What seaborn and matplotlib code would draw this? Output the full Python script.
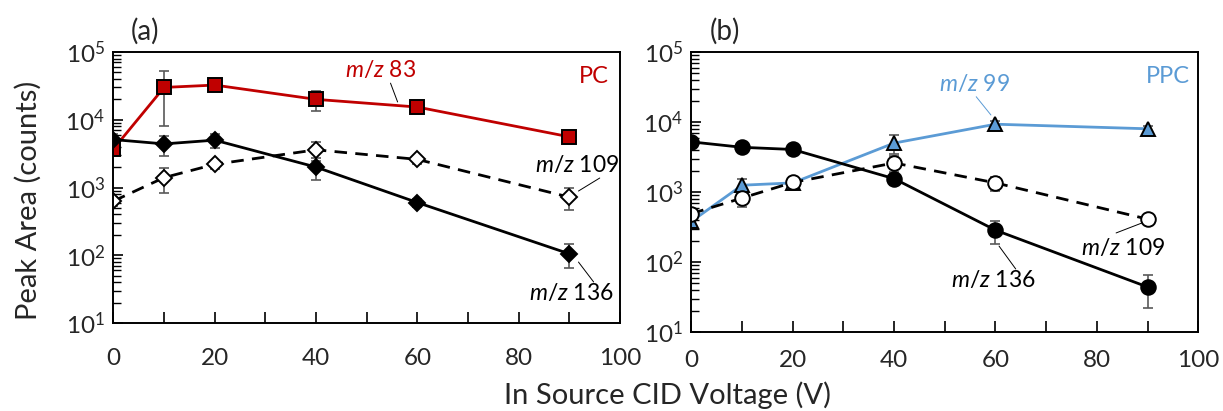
import matplotlib
matplotlib.use("Agg")
import matplotlib.pyplot as plt
import seaborn as sns
import numpy as np
import pandas as pd
from matplotlib.ticker import LogLocator, LogFormatterMathtext, MultipleLocator, NullFormatter

# ---------------- data ----------------
voltage = [0, 10, 20, 40, 60, 90]

pc_mz83 = [3700, 30000, 32500, 20000, 15400, 5600]
pc_mz83_err = [800, 22000, 3000, 6500, 1500, 600]
pc_mz136 = [5100, 4400, 5000, 2000, 600, 105]
pc_mz136_err = [1000, 1450, 1200, 700, 80, 40]
pc_mz109 = [630, 1400, 2200, 3600, 2600, 720]
pc_mz109_err = [100, 570, 300, 1100, 350, 250]

ppc_mz99 = [380, 1250, 1350, 5000, 9300, 8000]
ppc_mz99_err = [60, 300, 200, 1500, 1200, 700]
ppc_mz136 = [5200, 4350, 4050, 1550, 285, 44]
ppc_mz136_err = [700, 600, 400, 300, 105, 22]
ppc_mz109 = [490, 820, 1370, 2600, 1350, 410]
ppc_mz109_err = [80, 200, 250, 700, 300, 40]

panel_labels = ["(a)", "(b)"]
y_label = "Peak Area (counts)"
x_label = "In Source CID Voltage (V)"

RED = "#C00000"
BLUE = "#5B9BD5"
ERR = "#595959"

sns.set_style("ticks")
plt.rcParams["font.family"] = ["Lato", "DejaVu Sans"]
plt.rcParams["mathtext.fontset"] = "custom"
plt.rcParams["mathtext.rm"] = "Lato"
plt.rcParams["mathtext.it"] = "Lato:italic"
plt.rcParams["mathtext.default"] = "regular"

fig = plt.figure(figsize=(12.23, 4.11), dpi=100)
ax_a = fig.add_axes([113.4 / 1223, 1 - 323 / 411, 506.6 / 1223, 271 / 411])
ax_b = fig.add_axes([691.4 / 1223, 1 - 332 / 411, 506.8 / 1223, 280 / 411])


def draw_series(ax, y, err, lc, marker, mfc, ms, ls, lw=2.0):
    df = pd.DataFrame({"V": voltage, "A": y})
    ax.errorbar(voltage, y, yerr=err, fmt="none", ecolor=ERR, elinewidth=1.2,
                capsize=3.5, capthick=1.2, zorder=1.5)
    kw = {}
    if ls == "--":
        kw["dashes"] = (4.5, 3)
    sns.lineplot(data=df, x="V", y="A", ax=ax, color=lc, linewidth=lw,
                 marker=marker, markersize=ms, markerfacecolor=mfc,
                 markeredgecolor="black", markeredgewidth=1.4, zorder=2, **kw)


def style_axes(ax, xpad):
    ax.set_yscale("log")
    ax.set_ylim(10, 1e5)
    ax.set_xlim(0, 100)
    ax.xaxis.set_major_locator(MultipleLocator(20))
    ax.xaxis.set_minor_locator(MultipleLocator(10))
    ax.yaxis.set_major_locator(LogLocator(base=10, numticks=10))
    ax.yaxis.set_minor_locator(LogLocator(base=10, subs=np.arange(2, 10), numticks=10))
    ax.yaxis.set_major_formatter(LogFormatterMathtext())
    ax.yaxis.set_minor_formatter(NullFormatter())
    ax.tick_params(axis="x", which="both", direction="in", length=8, width=1.2,
                   color="black", labelsize=17.5, pad=xpad, bottom=True, top=False)
    ax.tick_params(axis="y", which="major", direction="in", length=7, width=1.2,
                   color="black", labelsize=17.5, pad=6, left=True, right=False)
    ax.tick_params(axis="y", which="minor", direction="in", length=6, width=1.0,
                   color="black", left=True, right=False)
    for s in ax.spines.values():
        s.set_visible(True)
        s.set_color("black")
        s.set_linewidth(1.4)
    ax.set_xlabel("")
    ax.set_ylabel("")


def leader(ax, p0, p1, color="black"):
    ax.annotate("", xy=p1, xytext=p0,
                arrowprops=dict(arrowstyle="-", color=color, lw=0.7,
                                shrinkA=0, shrinkB=0))


# ---------------- panel (a) ----------------
draw_series(ax_a, pc_mz83, pc_mz83_err, RED, "s", RED, 10.5, "-")
draw_series(ax_a, pc_mz109, pc_mz109_err, "black", "D", "white", 8.3, "--")
draw_series(ax_a, pc_mz136, pc_mz136_err, "black", "D", "black", 8.3, "-")
style_axes(ax_a, 18)

ax_a.text(52.8, 54200, r"$\mathit{m/z}$ 83", color=RED, fontsize=16.5, ha="center", va="center")
leader(ax_a, (54.7, 34700), (56.1, 18300))
ax_a.text(94.8, 42800, "PC", color=RED, fontsize=17, ha="center", va="center")
ax_a.text(91.5, 2150, r"$\mathit{m/z}$ 109", color="black", fontsize=16.5, ha="center", va="center")
leader(ax_a, (96.0, 1380), (91.8, 887))
ax_a.text(90.4, 27.7, r"$\mathit{m/z}$ 136", color="black", fontsize=16.5, ha="center", va="center")
leader(ax_a, (91.8, 79.4), (94.8, 40.3))

# ---------------- panel (b) ----------------
draw_series(ax_b, ppc_mz99, ppc_mz99_err, BLUE, "^", BLUE, 10.5, "-")
draw_series(ax_b, ppc_mz136, ppc_mz136_err, "black", "o", "black", 10.5, "-")
draw_series(ax_b, ppc_mz109, ppc_mz109_err, "black", "o", "white", 10.5, "--")
style_axes(ax_b, 13)

ax_b.text(94.1, 45400, "PPC", color=BLUE, fontsize=17, ha="center", va="center")
ax_b.text(55.8, 34900, r"$\mathit{m/z}$ 99", color=BLUE, fontsize=16.5, ha="center", va="center")
leader(ax_b, (56.2, 22950), (59.1, 12600), color=BLUE)
ax_b.text(85.2, 158, r"$\mathit{m/z}$ 109", color="black", fontsize=16.5, ha="center", va="center")
leader(ax_b, (83.8, 260), (88.9, 361))
ax_b.text(59.5, 55.3, r"$\mathit{m/z}$ 136", color="black", fontsize=16.5, ha="center", va="center")
leader(ax_b, (64.0, 79.4), (60.7, 169))

# ---------------- labels ----------------
fig.text(145 / 1223, 1 - 31 / 411, panel_labels[0], fontsize=20, ha="center", va="center")
fig.text(725 / 1223, 1 - 31 / 411, panel_labels[1], fontsize=20, ha="center", va="center")
fig.text(28 / 1223, 0.513, y_label, fontsize=21, rotation=90, ha="center", va="center")
fig.text(667 / 1223, 1 - 395 / 411, x_label, fontsize=21, ha="center", va="center")

fig.savefig("out.png", dpi=100)
